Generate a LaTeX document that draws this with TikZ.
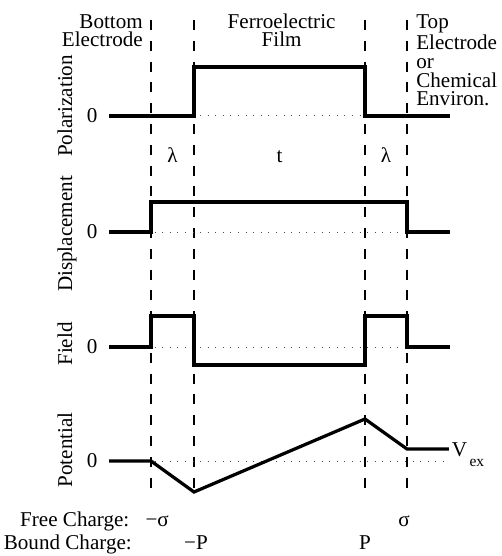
\documentclass[tikz,border=0pt]{standalone}
\usepackage{fontspec}
\setmainfont{Liberation Serif}

\begin{document}
\begin{tikzpicture}[
  x=1mm, y=1mm,
  font=\fontsize{15}{13.5}\selectfont,
  curve/.style={line width=2.3pt, line join=miter},
  bound/.style={line width=1.2pt, dash pattern=on 2.5mm off 2.7mm},
  zero/.style={line width=0.7pt, dash pattern=on 0.6pt off 4.8pt, black!70},
  lbl/.style={inner sep=0pt},
  axis/.style={rotate=90, anchor=base, inner sep=0pt}
]
\useasboundingbox (0,0) rectangle (125.25,139);

% region boundaries
\foreach \bx in {37.75, 48.5, 91.25, 101.75}
  \draw[bound] (\bx,134) -- (\bx,14.5);

% zero levels
\foreach \zy in {110, 81, 52.25, 23.75}
  \draw[zero] (27.25,\zy) -- (111,\zy);

% layer names
\node[lbl, align=right, anchor=base east] (bottomel) at (35.75,127.25) {Bottom\\Electrode};
\node[lbl, align=center, anchor=base] (film) at (70.4,127.25) {Ferroelectric\\Film};
\node[lbl, align=left, anchor=base west] (topel) at (104,112.5) {Top\\Electrode\\or\\Chemical\\Environ.};

% thicknesses
\node[lbl, anchor=base] (lamleft) at (43.1,98.25) {λ};
\node[lbl, anchor=base] (thick) at (69.9,98.25) {t};
\node[lbl, anchor=base] (lamright) at (96.5,98.25) {λ};

% axis names
\node[axis] (polar) at (18,112.5) {Polarization};
\node[axis] (displ) at (18,80.5) {Displacement};
\node[axis] (field) at (18,53) {Field};
\node[axis] (poten) at (18,26.5) {Potential};

\node[lbl, anchor=east] (polzero) at (24.4,110) {0};
\node[lbl, anchor=east] (diszero) at (24.4,81) {0};
\node[lbl, anchor=east] (fldzero) at (24.4,52.25) {0};
\node[lbl, anchor=east] (potzero) at (24.4,23.75) {0};

% profiles
\draw[curve] (27.25,110) -- (48.5,110) -- (48.5,122.25) -- (91.25,122.25)
  -- (91.25,110) -- (112.5,110);
\draw[curve] (27.25,81) -- (37.75,81) -- (37.75,88.5) -- (101.75,88.5)
  -- (101.75,81) -- (112.5,81);
\draw[curve] (27.25,52.25) -- (37.75,52.25) -- (37.75,60) -- (48.5,60)
  -- (48.5,47.75) -- (91.25,47.75) -- (91.25,60) -- (101.75,60)
  -- (101.75,52.25) -- (112.5,52.25);
\draw[curve] (27.25,23.75) -- (37.75,23.75) -- (48.5,16) -- (91.25,34.25)
  -- (101.75,26.75) -- (112.2,26.75);

\node[lbl, anchor=base west] (vex) at (112.9,24.75)
  {V\hspace{0.6mm}\raisebox{-2.5mm}{\fontsize{11}{11}\selectfont ex}};

% charges
\node[lbl, anchor=base east] (freelbl) at (32.4,7.25) {Free Charge:};
\node[lbl, anchor=base] (freeneg) at (39.3,7.25) {−σ};
\node[lbl, anchor=base] (freepos) at (101,7.25) {σ};
\node[lbl, anchor=base west] (boundlbl) at (0.9,1.5) {Bound Charge:};
\node[lbl, anchor=base] (boundneg) at (49,1.5) {−P};
\node[lbl, anchor=base] (boundpos) at (91.25,1.5) {P};
\end{tikzpicture}
\end{document}
